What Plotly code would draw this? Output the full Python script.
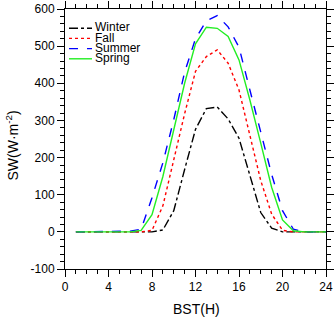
import plotly.graph_objects as go

hours = list(range(1, 25))
winter = [0, 0, 0, 0, 0, 0, 0, 0, 5, 57, 168, 276, 332, 336, 304, 252, 152, 52, 10, 0, 0, 0, 0, 0]
fall = [0, 0, 0, 0, 0, 0, 0, 4, 70, 194, 318, 432, 472, 490, 454, 382, 257, 138, 48, 4, 0, 0, 0, 0]
summer = [0, 0, 0, 0, 0, 2, 7, 92, 186, 302, 430, 520, 568, 582, 552, 497, 382, 266, 155, 57, 7, 0, 0, 0]
spring = [0, 0, 0, 0, 0, 0, 4, 46, 149, 275, 400, 506, 551, 548, 526, 463, 355, 239, 120, 32, 3, 0, 0, 0]

x_ticks = [0, 4, 8, 12, 16, 20, 24]
y_ticks = [-100, 0, 100, 200, 300, 400, 500, 600]

series = [
    ("Winter", winter, "black", "dashdot"),
    ("Fall", fall, "red", "dot"),
    ("Summer", summer, "blue", "dash"),
    ("Spring", spring, "#22ee22", "solid"),
]

W, H = 335, 319
ML, MR, MT, MB = 65, 9, 9, 50
pw, ph = W - ML - MR, H - MT - MB

def px_x(px):
    return (px - ML) / pw

def px_y(py):
    return (H - MB - py) / ph

fig = go.Figure()
for name, vals, color, dash in series:
    fig.add_trace(go.Scatter(x=hours, y=vals, mode="lines", name=name, showlegend=False,
                             line=dict(color=color, dash=dash, width=1.4)))

# manual legend (compact, like the reference)
row_y = [28.2, 38.4, 48.6, 58.8]
for (name, vals, color, dash), ry in zip(series, row_y):
    fig.add_shape(type="line", xref="paper", yref="paper",
                  x0=px_x(69), x1=px_x(92), y0=px_y(ry), y1=px_y(ry),
                  line=dict(color=color, dash=dash, width=1.4))
    fig.add_annotation(xref="paper", yref="paper", x=px_x(92.5), y=px_y(ry - 0.8),
                       text=name, showarrow=False, xanchor="left", yanchor="middle",
                       font=dict(size=12, color="black"))

axis_common = dict(showgrid=False, zeroline=False, showline=True, linecolor="black",
                   linewidth=1, mirror="ticks", ticks="outside", ticklen=7, tickwidth=1,
                   tickcolor="black", tickfont=dict(size=12, color="black"), automargin=False)

fig.update_xaxes(range=[0, 24], tickvals=x_ticks, ticktext=[str(v) for v in x_ticks],
                 minor=dict(dtick=1, ticklen=4, ticks="outside", tickcolor="black"),
                 **axis_common)
fig.update_yaxes(range=[-100, 600], tickvals=y_ticks, ticktext=[str(v) for v in y_ticks],
                 minor=dict(dtick=20, ticklen=4, ticks="outside", tickcolor="black"),
                 **axis_common)

# axis titles
fig.add_annotation(xref="paper", yref="paper", x=px_x(196), y=px_y(309),
                   text="BST(H)", showarrow=False, xanchor="center", yanchor="middle",
                   font=dict(size=14, color="black"))
fig.add_annotation(xref="paper", yref="paper", x=px_x(12.5), y=px_y(146),
                   text="SW(W·m<sup>-2</sup>)", showarrow=False, xanchor="center",
                   yanchor="middle", textangle=-90, font=dict(size=14, color="black"))

fig.update_layout(
    width=W, height=H,
    margin=dict(l=ML, r=MR, t=MT, b=MB),
    paper_bgcolor="white", plot_bgcolor="white",
    font=dict(family="Liberation Sans, Arial, sans-serif", color="black"),
    showlegend=False,
)

fig.write_html("out.html", config={"displayModeBar": False},
               post_script="document.body.style.margin='0px';")
